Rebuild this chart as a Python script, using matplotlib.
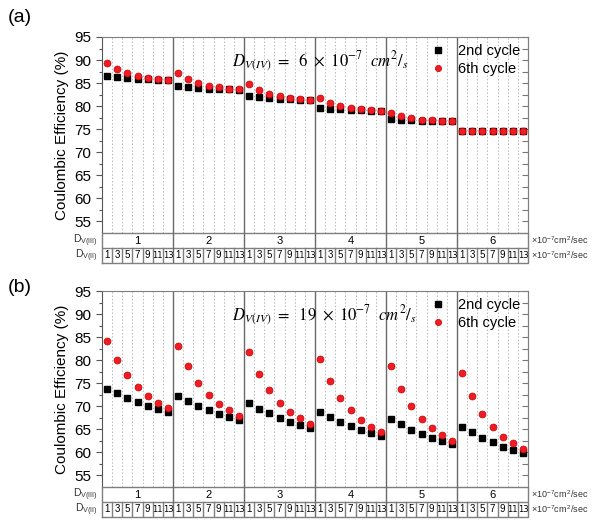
import matplotlib
matplotlib.use("Agg")
import matplotlib.pyplot as plt
import numpy as np

plt.rcParams['font.family'] = ['Liberation Sans', 'DejaVu Sans']
plt.rcParams['mathtext.fontset'] = 'stix'

# ---- data ----
dv3_labels = ['1', '2', '3', '4', '5', '6']
dv2_labels = ['1', '3', '5', '7', '9', '11', '13']
series_names = ['2nd cycle', '6th cycle']

cycle2_a = [86.6, 86.3, 86.1, 85.9, 85.8, 85.6, 85.6,
            84.4, 84.1, 84.0, 83.8, 83.7, 83.6, 83.5,
            82.1, 81.9, 81.7, 81.6, 81.5, 81.4, 81.4,
            79.6, 79.4, 79.3, 79.2, 79.1, 79.0, 79.0,
            77.1, 77.0, 76.9, 76.8, 76.8, 76.7, 76.7,
            74.5, 74.5, 74.5, 74.5, 74.5, 74.5, 74.5]
cycle6_a = [89.4, 88.1, 87.2, 86.6, 86.1, 85.9, 85.6,
            87.1, 85.8, 85.0, 84.4, 84.1, 83.8, 83.6,
            84.7, 83.4, 82.7, 82.1, 81.8, 81.6, 81.4,
            81.7, 80.7, 80.1, 79.6, 79.3, 79.1, 79.0,
            78.4, 77.8, 77.3, 77.0, 76.9, 76.8, 76.8,
            74.6, 74.6, 74.6, 74.6, 74.6, 74.6, 74.6]
cycle2_b = [73.8, 72.8, 71.8, 70.8, 70.0, 69.3, 68.6,
            72.2, 71.0, 70.0, 69.1, 68.3, 67.6, 66.9,
            70.6, 69.4, 68.4, 67.5, 66.6, 65.8, 65.2,
            68.8, 67.7, 66.6, 65.7, 64.8, 64.1, 63.4,
            67.2, 66.0, 64.8, 64.0, 63.1, 62.3, 61.7,
            65.4, 64.3, 63.1, 62.2, 61.2, 60.5, 59.8]
cycle6_b = [84.2, 80.0, 76.7, 74.1, 72.2, 70.7, 69.6,
            83.0, 78.6, 75.1, 72.5, 70.5, 69.1, 67.9,
            81.7, 77.0, 73.5, 70.7, 68.7, 67.3, 66.1,
            80.2, 75.5, 71.8, 69.1, 67.0, 65.5, 64.3,
            78.8, 73.8, 70.1, 67.2, 65.2, 63.7, 62.5,
            77.1, 72.1, 68.2, 65.4, 63.3, 61.9, 60.7]
dv4_values = ['6', '19']
panel_labels = ['(a)', '(b)']

W, H = 600, 529
fig = plt.figure(figsize=(W / 100, H / 100), dpi=100)

ng = len(dv3_labels)
nc = len(dv2_labels)
npts = ng * nc
xs = np.arange(npts) + 0.5

GRAY = '#7f7f7f'

def px_axes(left, top, right, bottom):
    return fig.add_axes([left / W, 1 - bottom / H, (right - left) / W, (bottom - top) / H])

def panel(top, c2, c6, dv4, lab, lab_y):
    L, R = 102, 528
    bottom = top + 196
    ax = px_axes(L, top, R, bottom)
    ax.set_xlim(0, npts)
    ax.set_ylim(52.4, 95)
    for k in range(1, npts):
        if k % nc == 0:
            ax.axvline(k, color='#6a6a6a', lw=1.0, zorder=1)
        else:
            ax.axvline(k, color='#b8b8b8', lw=0.7, ls=(0, (1.5, 2)), zorder=1)
    ax.plot(xs, c2, ls='none', marker='s', ms=4.4, color='black', label=series_names[0], zorder=3)
    ax.plot(xs, c6, ls='none', marker='o', ms=5.0, color='#ee1c24', mec='#cc0000', mew=0.5,
            label=series_names[1], zorder=4)
    ax.set_xticks([])
    ax.set_yticks(np.arange(55, 96, 5))
    ax.set_yticks(np.arange(55, 96, 2.5), minor=True)
    ax.tick_params(axis='y', which='major', direction='out', length=4, width=0.8, labelsize=11,
                   color='#555555')
    ax.tick_params(axis='y', which='minor', direction='out', length=2, width=0.8, color='#555555')
    ax2 = ax.secondary_yaxis('right')
    ax2.set_yticks(np.arange(55, 96, 2.5))
    ax2.tick_params(direction='in', length=4, width=0.8, color='#777777', labelright=False)
    ax2.spines['right'].set_color(GRAY)
    ax.tick_params(axis='y', which='both', right=False)
    for s in ['top', 'right']:
        ax.spines[s].set_color(GRAY)
    ax.spines['left'].set_color('#555555')
    ax.spines['bottom'].set_visible(False)
    ax.set_ylabel('Coulombic Efficiency (%)', fontsize=11, labelpad=4)
    ax.text(0.305, 0.875, r'$D_{V(IV)}\ =\ \ ' + dv4 + r'\ \times\ 10^{-7}\ \ cm^{2}/_{s}$',
            transform=ax.transAxes, fontsize=12, va='center', ha='left')
    ax.legend(loc='upper right', frameon=False, fontsize=10.5, handlelength=0.8,
              handletextpad=1.0, borderaxespad=0.2, labelspacing=0.25, borderpad=0.3,
              markerscale=0.9)
    fig.text(8 / W, 1 - lab_y / H, lab, fontsize=14, va='center', ha='left')

    # table
    tb = px_axes(L, bottom, R, bottom + 30)
    tb.set_xlim(0, npts)
    tb.set_ylim(0, 2)
    tb.axis('off')
    tb.plot([0, npts, npts, 0, 0], [0, 0, 2, 2, 0], color=GRAY, lw=1.0, clip_on=False)
    tb.plot([0, npts], [1, 1], color=GRAY, lw=1.0)
    for g in range(1, ng):
        tb.plot([g * nc, g * nc], [0, 2], color='#6a6a6a', lw=1.0)
    for k in range(1, npts):
        if k % nc:
            tb.plot([k, k], [0, 1], color=GRAY, lw=1.0)
    for g, t in enumerate(dv3_labels):
        tb.text(g * nc + nc / 2, 1.5, t, ha='center', va='center', fontsize=8)
    for g in range(ng):
        for c, t in enumerate(dv2_labels):
            if len(t) > 1:
                tb.text(g * nc + c + 0.5, 0.5, t, ha='center', va='center', fontsize=6,
                        family='Liberation Sans Narrow')
            else:
                tb.text(g * nc + c + 0.5, 0.5, t, ha='center', va='center', fontsize=7)
    tb.text(-0.45, 1.5, r'D$_{\mathregular{V(III)}}$', ha='right',
            va='center', fontsize=7.5, color='#333333')
    tb.text(-0.45, 0.5, r'D$_{\mathregular{V(II)}}$', ha='right',
            va='center', fontsize=7.5, color='#333333')
    for yy in [1.5, 0.5]:
        tb.text(npts + 0.3, yy, r'×10$^{\mathregular{-7}}$cm$^{\mathregular{2}}$/sec',
                ha='left', va='center', fontsize=6.5, color='#333333')

panel(37, cycle2_a, cycle6_a, dv4_values[0], panel_labels[0], 18)
panel(291, cycle2_b, cycle6_b, dv4_values[1], panel_labels[1], 287)

fig.savefig('out.png', dpi=100)
